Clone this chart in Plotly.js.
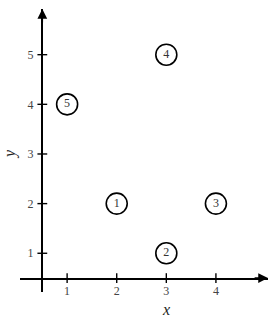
<!DOCTYPE html>
<html><head><meta charset="utf-8">
<script src="https://cdn.plot.ly/plotly-3.0.1.min.js"></script>
<style>html,body{margin:0;padding:0;background:#fff}</style>
</head><body><div id="chart" style="width:277px;height:320px"></div>
<script>
// Data
const pointX = [2, 3, 4, 3, 1];
const pointY = [2, 1, 2, 5, 4];
const pointLabels = ['1', '2', '3', '4', '5'];
const xTicks = [1, 2, 3, 4];
const yTicks = [1, 2, 3, 4, 5];
const xTitle = 'x';
const yTitle = 'y';

const cross = 0.5;   // where the axes meet
const xr = [0.05, 5.05], yr = [0.22, 5.92];
const FONT = 'Liberation Serif, DejaVu Serif, serif';

const traces = [
  { x: xTicks, y: xTicks.map(() => cross), mode: 'markers', hoverinfo: 'skip',
    marker: { symbol: 'line-ns-open', size: 7, color: '#000', line: { color: '#000', width: 1.4 } } },
  { x: yTicks.map(() => cross), y: yTicks, mode: 'markers', hoverinfo: 'skip',
    marker: { symbol: 'line-ew-open', size: 7, color: '#000', line: { color: '#000', width: 1.4 } } },
  { x: pointX, y: pointY, text: pointLabels, mode: 'markers+text', textposition: 'middle center',
    textfont: { family: FONT, size: 12, color: '#333' },
    marker: { symbol: 'circle', size: 21, color: '#fff', line: { color: '#000', width: 1.6 } } }
];

const layout = {
  width: 277, height: 320, showlegend: false,
  margin: { l: 0, r: 0, t: 0, b: 0 },
  paper_bgcolor: '#fff', plot_bgcolor: '#fff',
  font: { family: FONT, color: '#333', size: 12 },
  xaxis: { range: xr, domain: [20/277, 268/277], anchor: 'free', position: (320-278)/320,
    showgrid: false, zeroline: false, showline: true, linecolor: '#000', linewidth: 1.5,
    tickvals: xTicks, ticktext: xTicks.map(String), ticks: '', ticklabelstandoff: 1,
    tickfont: { family: FONT, size: 12, color: '#444' }, fixedrange: true },
  yaxis: { range: yr, domain: [(320-292)/320, (320-9)/320], anchor: 'free', position: 41/277,
    showgrid: false, zeroline: false, showline: true, linecolor: '#000', linewidth: 1.5,
    tickvals: yTicks, ticktext: yTicks.map(String), ticks: '', ticklabelstandoff: 5,
    tickfont: { family: FONT, size: 12, color: '#444' }, fixedrange: true },
  annotations: [
    { x: xr[1], y: cross, ax: xr[1] - 0.3, ay: cross, axref: 'x', ayref: 'y', xref: 'x', yref: 'y',
      text: '', showarrow: true, arrowhead: 2, arrowsize: 1.3, arrowwidth: 1.5, arrowcolor: '#000' },
    { x: cross, y: yr[1], ax: cross, ay: yr[1] - 0.3, axref: 'x', ayref: 'y', xref: 'x', yref: 'y',
      text: '', showarrow: true, arrowhead: 2, arrowsize: 1.3, arrowwidth: 1.5, arrowcolor: '#000' },
    { x: 3, y: (320-309)/320, xref: 'x', yref: 'paper', xanchor: 'center', yanchor: 'middle',
      text: '<i>' + xTitle + '</i>', showarrow: false,
      font: { family: FONT, size: 16, color: '#222' } },
    { x: 10/277, y: 3, xref: 'paper', yref: 'y', xanchor: 'center', yanchor: 'middle',
      text: '<i>' + yTitle + '</i>', showarrow: false, textangle: -90,
      font: { family: FONT, size: 16, color: '#222' } }
  ]
};
Plotly.newPlot('chart', traces, layout, { displayModeBar: false, staticPlot: true });
</script></body></html>
